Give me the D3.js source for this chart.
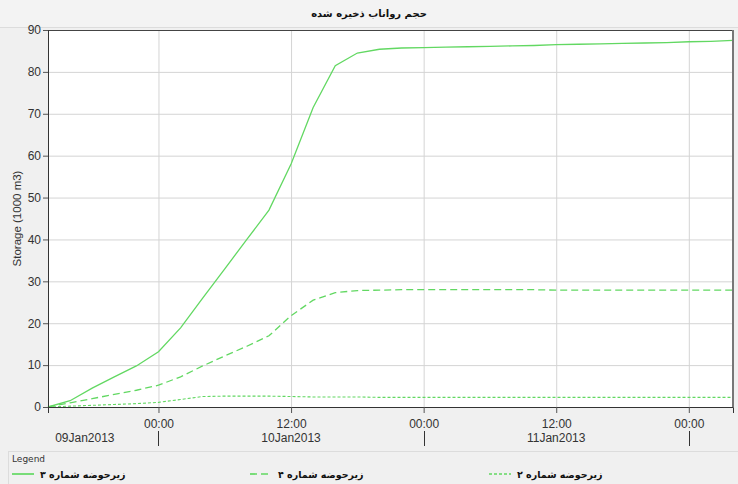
<!DOCTYPE html>
<html>
<head>
<meta charset="utf-8">
<script src="https://cdn.jsdelivr.net/npm/d3@7"></script>
<style>
  html, body { margin: 0; padding: 0; background: #f0f0f0; }
  svg { display: block; }
</style>
</head>
<body>
<svg id="chart" width="738" height="484"></svg>
<script>
// Sample times (UTC), every two hours from 09 Jan 2013 14:00
const times = [
  "2013-01-09T14:00", "2013-01-09T16:00", "2013-01-09T18:00", "2013-01-09T20:00",
  "2013-01-09T22:00", "2013-01-10T00:00", "2013-01-10T02:00", "2013-01-10T04:00",
  "2013-01-10T06:00", "2013-01-10T08:00", "2013-01-10T10:00", "2013-01-10T12:00",
  "2013-01-10T14:00", "2013-01-10T16:00", "2013-01-10T18:00", "2013-01-10T20:00",
  "2013-01-10T22:00", "2013-01-11T00:00", "2013-01-11T02:00", "2013-01-11T04:00",
  "2013-01-11T06:00", "2013-01-11T08:00", "2013-01-11T10:00", "2013-01-11T12:00",
  "2013-01-11T14:00", "2013-01-11T16:00", "2013-01-11T18:00", "2013-01-11T20:00",
  "2013-01-11T22:00", "2013-01-12T00:00", "2013-01-12T02:00", "2013-01-12T04:00"
];

// Stored runoff volume per sub-basin (1000 m3)
const subbasin3 = [
  0, 1.5, 4.5, 7.2, 9.8, 13.2, 18.9, 26, 33, 40, 47, 58,
  71.5, 81.5, 84.5, 85.4, 85.7, 85.8, 85.9, 86.0, 86.1, 86.2, 86.3, 86.5,
  86.6, 86.7, 86.8, 86.9, 87.0, 87.2, 87.3, 87.5
];
const subbasin4 = [
  0, 1.0, 2.0, 3.0, 4.0, 5.2, 7.2, 9.8, 12.2, 14.5, 17.0, 21.8,
  25.5, 27.3, 27.8, 27.9, 28.0, 28.0, 28.0, 28.0, 28.0, 28.0, 28.0, 27.9,
  27.9, 27.9, 27.9, 27.9, 27.9, 27.9, 27.9, 27.9
];
const subbasin2 = [
  0, 0.2, 0.4, 0.6, 0.8, 1.1, 1.8, 2.5, 2.6, 2.6, 2.6, 2.5,
  2.4, 2.4, 2.4, 2.3, 2.3, 2.3, 2.3, 2.3, 2.3, 2.3, 2.3, 2.3,
  2.3, 2.3, 2.3, 2.3, 2.3, 2.3, 2.3, 2.3
];

const seriesNames = ["زیرحوضه شماره ۳", "زیرحوضه شماره ۴", "زیرحوضه شماره ۲"];
const yTicks = [0, 10, 20, 30, 40, 50, 60, 70, 80, 90];
const timeTicks = ["2013-01-10T00:00", "2013-01-10T12:00", "2013-01-11T00:00", "2013-01-11T12:00", "2013-01-12T00:00"];
const dayLabels = [
  { at: "2013-01-09T17:20", text: "09Jan2013" },
  { at: "2013-01-10T12:00", text: "10Jan2013" },
  { at: "2013-01-11T12:00", text: "11Jan2013" }
];
const daySeparators = ["2013-01-10T00:00", "2013-01-11T00:00", "2013-01-12T00:00"];
const titleText = "حجم رواناب ذخیره شده";
const yTitle = "Storage (1000 m3)";

const parse = d3.utcParse("%Y-%m-%dT%H:%M");
const dates = times.map(parse);

const svg = d3.select("#chart");
const W = 738, H = 484;
const m = { left: 48, right: 5, top: 30, bottom: 77 };
const pw = W - m.left - m.right, ph = H - m.top - m.bottom;

const x = d3.scaleUtc()
  .domain([parse("2013-01-09T14:00"), parse("2013-01-12T04:00")])
  .range([m.left, m.left + pw]);
const y = d3.scaleLinear().domain([0, 90]).range([m.top + ph, m.top]);

const green = "#62d862";
const labelFont = "'Liberation Sans', Arial, sans-serif";
const persianFont = "'DejaVu Sans', Tahoma, sans-serif";

// background and title bar
svg.append("rect").attr("width", W).attr("height", H).attr("fill", "#f0f0f0");
svg.append("rect").attr("x", 0).attr("y", 0).attr("width", W).attr("height", 27).attr("fill", "#f3f3f3");
svg.append("line").attr("x1", 0).attr("x2", W).attr("y1", 27.5).attr("y2", 27.5).attr("stroke", "#dcdcdc");
svg.append("text").attr("x", 369).attr("y", 17)
  .attr("text-anchor", "middle").attr("font-family", persianFont)
  .attr("font-size", 10).attr("font-weight", "bold").attr("fill", "#111")
  .text(titleText);

// plot area
svg.append("rect").attr("x", m.left).attr("y", m.top).attr("width", pw).attr("height", ph).attr("fill", "#fff");

// horizontal grid
svg.append("g")
  .attr("transform", `translate(${m.left},0)`)
  .call(d3.axisLeft(y).tickValues(yTicks).tickSize(-pw).tickFormat(""))
  .call(g => g.select(".domain").remove())
  .call(g => g.selectAll("line").attr("stroke", "#d4d4d4"));

// vertical grid
svg.append("g")
  .attr("transform", `translate(0,${m.top + ph})`)
  .call(d3.axisBottom(x).tickValues(timeTicks.map(parse)).tickSize(-ph).tickFormat(""))
  .call(g => g.select(".domain").remove())
  .call(g => g.selectAll("line").attr("stroke", "#d4d4d4"));

// series lines
const line = d3.line().x((d, i) => x(dates[i])).y(d => y(d));
const series = [
  { values: subbasin3, dash: null, width: 1.3 },
  { values: subbasin4, dash: "7,4", width: 1.3 },
  { values: subbasin2, dash: "3,2", width: 1.1 }
];
series.forEach(s => {
  svg.append("path").datum(s.values)
    .attr("d", line).attr("fill", "none")
    .attr("stroke", green).attr("stroke-width", s.width)
    .attr("stroke-dasharray", s.dash);
});

// plot frame
svg.append("line").attr("x1", m.left).attr("x2", m.left + pw).attr("y1", m.top + 0.5).attr("y2", m.top + 0.5).attr("stroke", "#444");
svg.append("line").attr("x1", m.left + pw).attr("x2", m.left + pw).attr("y1", m.top).attr("y2", m.top + ph).attr("stroke", "#777").attr("stroke-width", 2);

// y axis
const yAxis = svg.append("g")
  .attr("transform", `translate(${m.left},0)`)
  .call(d3.axisLeft(y).tickValues(yTicks).tickSize(5).tickPadding(2));
yAxis.select(".domain").attr("stroke", "#333");
yAxis.selectAll("line").attr("stroke", "#555");
yAxis.selectAll("text").attr("font-family", labelFont).attr("font-size", 12).attr("fill", "#333");

svg.append("text")
  .attr("transform", `translate(21,${m.top + ph / 2}) rotate(-90)`)
  .attr("text-anchor", "middle").attr("font-family", labelFont)
  .attr("font-size", 11.5).attr("fill", "#333").text(yTitle);

// x axis: clock times
const xAxis = svg.append("g")
  .attr("transform", `translate(0,${m.top + ph})`)
  .call(d3.axisBottom(x).tickValues(timeTicks.map(parse)).tickSize(6).tickPadding(6)
    .tickFormat(d3.utcFormat("%H:%M")));
xAxis.select(".domain").attr("stroke", "#333");
xAxis.selectAll("line").attr("stroke", "#555");
xAxis.selectAll("text").attr("font-family", labelFont).attr("font-size", 12).attr("fill", "#333");

// x axis: day labels and separators
svg.append("g").selectAll("text").data(dayLabels).join("text")
  .attr("x", d => x(parse(d.at))).attr("y", 442)
  .attr("text-anchor", "middle").attr("font-family", labelFont)
  .attr("font-size", 12).attr("fill", "#333").text(d => d.text);
svg.append("g").selectAll("line").data(daySeparators).join("line")
  .attr("x1", d => Math.round(x(parse(d))) + 0.5).attr("x2", d => Math.round(x(parse(d))) + 0.5)
  .attr("y1", 431).attr("y2", 446).attr("stroke", "#333");

// legend
svg.append("rect").attr("x", 8.5).attr("y", 451.5).attr("width", W - 8).attr("height", 40)
  .attr("fill", "none").attr("stroke", "#dcdcdc");
svg.append("text").attr("x", 12).attr("y", 462).attr("font-family", persianFont)
  .attr("font-size", 9).attr("fill", "#333").text("Legend");
const legendX = [12, 250, 489];
const legend = svg.append("g").selectAll("g").data(series).join("g")
  .attr("transform", (d, i) => `translate(${legendX[i]},474)`);
legend.append("line").attr("x1", 0).attr("x2", 22).attr("y1", 0).attr("y2", 0)
  .attr("stroke", green).attr("stroke-width", d => d.width + 0.4).attr("stroke-dasharray", d => d.dash);
legend.append("text").attr("x", 28).attr("y", 3.5)
  .attr("font-family", persianFont).attr("font-size", 9.5).attr("font-weight", "bold")
  .attr("fill", "#111").text((d, i) => seriesNames[i]);
</script>
</body>
</html>
